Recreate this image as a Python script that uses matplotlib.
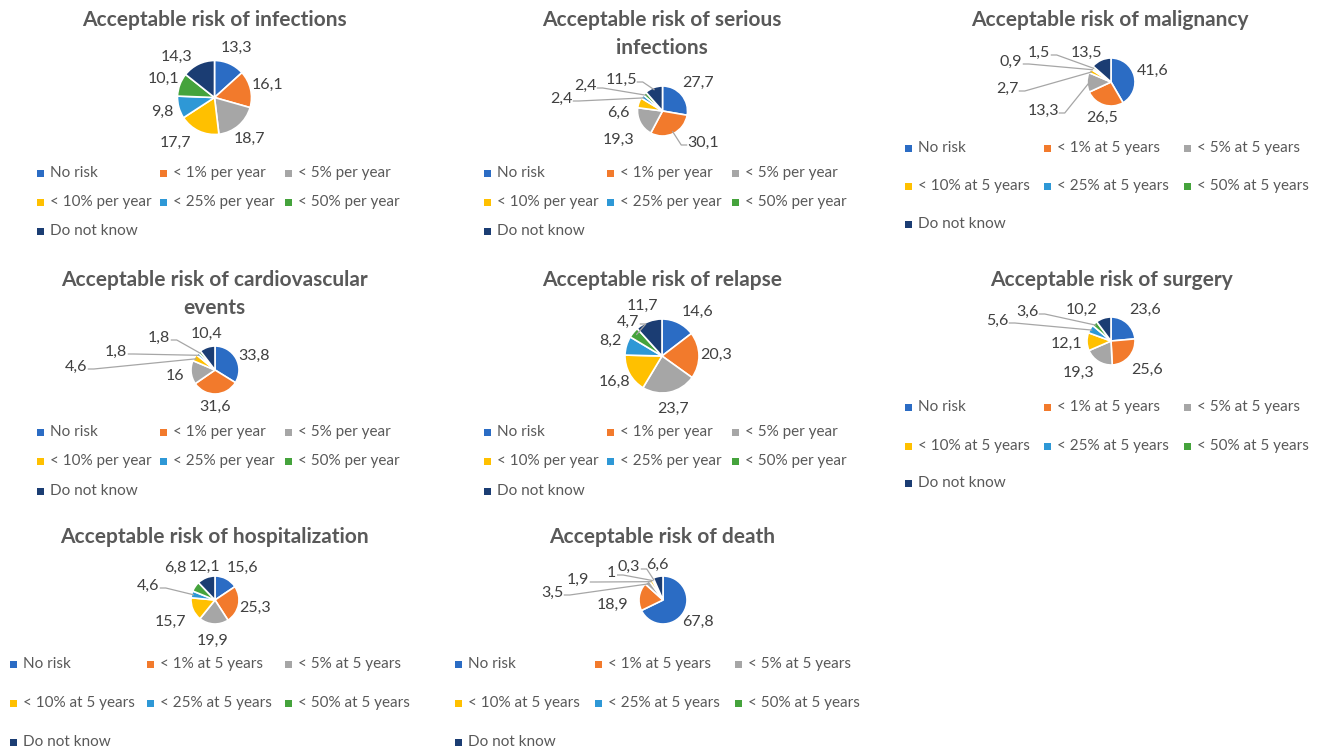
import numpy as np
import matplotlib
matplotlib.use('Agg')
import matplotlib.pyplot as plt
from matplotlib.patches import Rectangle

plt.rcParams['font.family'] = ['Lato', 'DejaVu Sans']

W, H = 1320, 749

colors = ['#2B6CC4', '#F27A2C', '#A6A6A6', '#FFC000', '#2E98D6', '#45A33C', '#1B3D73']

per_year = ['No risk', '< 1% per year', '< 5% per year', '< 10% per year',
            '< 25% per year', '< 50% per year', 'Do not know']
at_5_years = ['No risk', '< 1% at 5 years', '< 5% at 5 years', '< 10% at 5 years',
              '< 25% at 5 years', '< 50% at 5 years', 'Do not know']

titles = ['Acceptable risk of infections',
          'Acceptable risk of serious\ninfections',
          'Acceptable risk of malignancy',
          'Acceptable risk of cardiovascular\nevents',
          'Acceptable risk of relapse',
          'Acceptable risk of surgery',
          'Acceptable risk of hospitalization',
          'Acceptable risk of death']

infections = [13.3, 16.1, 18.7, 17.7, 9.8, 10.1, 14.3]
serious_infections = [27.7, 30.1, 19.3, 6.6, 2.4, 2.4, 11.5]
malignancy = [41.6, 26.5, 13.3, 2.7, 0.9, 1.5, 13.5]
cardiovascular = [33.8, 31.6, 16, 4.6, 1.8, 1.8, 10.4]
relapse = [14.6, 20.3, 23.7, 16.8, 8.2, 4.7, 11.7]
surgery = [23.6, 25.6, 19.3, 12.1, 5.6, 3.6, 10.2]
hospitalization = [15.6, 25.3, 19.9, 15.7, 4.6, 6.8, 12.1]
death = [67.8, 18.9, 3.5, 1.9, 1, 0.3, 6.6]

panels = [
    # values, categories, title (x, y), pie (x, y), radius, legend columns x, legend rows y
    dict(vals=infections, cats=per_year, title=(214, 20), pie=(214.5, 97.5), r=37,
         lx=(40, 163, 288), ly=(173, 202, 231)),
    dict(vals=serious_infections, cats=per_year, title=(662, 34), pie=(662.5, 111), r=25,
         lx=(487, 610, 735), ly=(173, 202, 231)),
    dict(vals=malignancy, cats=at_5_years, title=(1110, 20), pie=(1111, 82), r=24,
         lx=(908, 1047, 1187), ly=(148, 186, 224)),
    dict(vals=cardiovascular, cats=per_year, title=(214, 294), pie=(215, 370), r=24,
         lx=(40, 163, 288), ly=(432, 461, 491)),
    dict(vals=relapse, cats=per_year, title=(662, 280), pie=(662, 356), r=37,
         lx=(487, 610, 735), ly=(432, 461, 491)),
    dict(vals=surgery, cats=at_5_years, title=(1111, 280), pie=(1111, 341), r=24,
         lx=(908, 1047, 1187), ly=(407, 446, 483)),
    dict(vals=hospitalization, cats=at_5_years, title=(214, 537), pie=(215, 600), r=24,
         lx=(13, 150, 288), ly=(664, 703, 742)),
    dict(vals=death, cats=at_5_years, title=(662, 537), pie=(663, 600), r=24,
         lx=(458, 598, 738), ly=(664, 703, 742)),
]

# hand placed data labels (pixel x, y, leader line?)
label_pos = {
    0: {3: (175, 143, False), 6: (176, 57, False)},
    1: {0: (698, 83, False), 1: (703, 143, True), 2: (618, 140, False), 3: (618, 113, False),
        4: (561, 99, True), 5: (585, 86, True), 6: (621, 80, True)},
    2: {0: (1153, 71, False), 1: (1102, 118, False), 2: (1043, 111, True), 3: (1007, 89, True),
        4: (1011, 62, True), 5: (1039, 53, True), 6: (1086, 53, False)},
    3: {0: (254, 356, False), 1: (215, 407, False), 2: (175, 376, False), 3: (76, 367, True),
        4: (116, 352, True), 5: (159, 338, True), 6: (207, 334, False)},
    4: {0: (698, 312, False), 5: (628, 322, True)},
    5: {0: (1145, 310, False), 1: (1147, 370, False), 2: (1078, 373, False), 3: (1067, 344, False),
        4: (997, 321, True), 5: (1027, 312, True), 6: (1082, 310, False)},
    6: {0: (243, 568, False), 3: (170, 622, False), 4: (148, 586, True), 5: (175, 568, False),
        6: (205, 567, False)},
    7: {1: (613, 605, False), 2: (552, 593, True), 3: (578, 580, True), 4: (611, 573, True),
        5: (629, 567, True), 6: (657, 565, False)},
}


def fmt(v):
    return f"{v:g}".replace('.', ',')


def text_w(s):
    return sum(3.5 if c == ',' else 8 for c in s)


fig = plt.figure(figsize=(W / 100, H / 100), dpi=100)
ax = fig.add_axes([0, 0, 1, 1])

for i, p in enumerate(panels):
    vals = np.array(p['vals'], dtype=float)
    cx, cy = p['pie']
    r = p['r']
    # y axis is inverted, so counterclock in data = clockwise on screen
    ax.pie(vals, colors=colors, center=(cx, cy), radius=r, startangle=-90,
           counterclock=True, wedgeprops=dict(edgecolor='white', linewidth=1.2))

    frac = vals / vals.sum()
    mids = np.cumsum(frac) - frac / 2
    theta = np.deg2rad(90 - 360 * mids)
    for k, v in enumerate(vals):
        s = fmt(v)
        if k in label_pos.get(i, {}):
            x, y, leader = label_pos[i][k]
        else:
            d = r + 17
            x, y, leader = cx + d * np.cos(theta[k]), cy - d * np.sin(theta[k]), False
        ax.text(x, y, s, ha='center', va='center', fontsize=11.5, color='#404040')
        if leader:
            sx = cx + r * 0.9 * np.cos(theta[k])
            sy = cy - r * 0.9 * np.sin(theta[k])
            sgn = 1 if x < sx else -1
            axx = x + sgn * (text_w(s) / 2 + 2)
            ayy = y + 2
            ex = axx + sgn * 6
            ax.plot([axx, ex, sx], [ayy, ayy, sy], color='#A6A6A6', lw=0.9,
                    solid_capstyle='butt')

    tx, ty = p['title']
    ax.text(tx, ty, titles[i], ha='center', va='center',
            fontsize=15, fontweight='bold', color='#595959', linespacing=1.55)

    for k, cat in enumerate(p['cats']):
        row, col = divmod(k, 3)
        mx, my = p['lx'][col], p['ly'][row]
        ax.add_patch(Rectangle((mx - 3.5, my - 3.5), 7, 7, color=colors[k], lw=0))
        ax.text(mx + 10, my, cat, ha='left', va='center', fontsize=11, color='#595959')

ax.set_xlim(0, W)
ax.set_ylim(H, 0)
ax.set_aspect('auto')
ax.axis('off')

fig.savefig('out.png', dpi=100, facecolor='white')
